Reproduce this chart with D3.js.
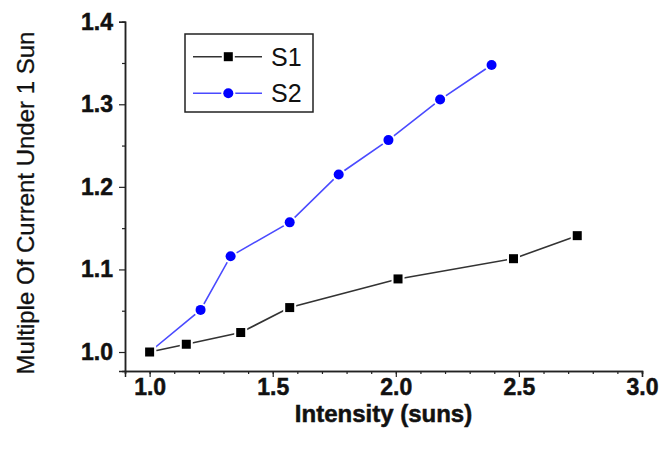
<!DOCTYPE html>
<html><head><meta charset="utf-8">
<script src="https://cdn.jsdelivr.net/npm/d3@7"></script>
<style>body{margin:0;background:#fff}svg{display:block}</style>
</head><body>
<svg id="c" width="662" height="452"></svg>
<script>
const s1X = [1.0, 1.149, 1.37, 1.569, 2.009, 2.478, 2.737];
const s1Y = [1.0, 1.0094, 1.0236, 1.0538, 1.0885, 1.113, 1.1409];
const s2X = [1.0, 1.207, 1.329, 1.569, 1.768, 1.970, 2.180, 2.389];
const s2Y = [1.0, 1.051, 1.116, 1.157, 1.215, 1.2566, 1.3057, 1.3476];
const xTicks = [1.0, 1.5, 2.0, 2.5, 3.0];
const yTicks = [1.0, 1.1, 1.2, 1.3, 1.4];
const seriesNames = ["S1", "S2"];
const xTitle = "Intensity (suns)";
const yTitle = "Multiple Of Current Under 1 Sun";

const svg = d3.select("#c");
const x = d3.scaleLinear().domain([0.9, 3.0]).range([125, 642]);
const y = d3.scaleLinear().domain([0.977, 1.4]).range([371, 21.7]);
const font = "'Liberation Sans', Arial, sans-serif";

// axes
const xAxis = d3.axisBottom(x).tickValues(xTicks).tickFormat(d3.format(".1f")).tickSize(6).tickPadding(2);
const xMinor = d3.axisBottom(x).tickValues(d3.range(9, 31).map(v => v / 10)).tickFormat("").tickSize(3);
const yAxis = d3.axisLeft(y).tickValues(yTicks).tickFormat(d3.format(".1f")).tickSize(6).tickPadding(6);
const yMinor = d3.axisLeft(y).tickValues([1.05, 1.15, 1.25, 1.35]).tickFormat("").tickSize(3);

function style(g) {
  g.select(".domain").attr("stroke", "#222").attr("stroke-width", 1.5);
  g.selectAll(".tick line").attr("stroke", "#222").attr("stroke-width", 1.2);
  g.selectAll(".tick text").attr("font-family", font).attr("font-weight", "bold").attr("font-size", 23)
    .attr("fill", "#111").attr("stroke", "#111").attr("stroke-width", 0.5);
}
svg.append("g").attr("transform", "translate(0,371)").call(xMinor).call(style);
svg.append("g").attr("transform", "translate(0,371)").call(xAxis).call(style);
svg.append("g").attr("transform", "translate(125,0)").call(yMinor).call(style);
svg.append("g").attr("transform", "translate(125,0)").call(yAxis).call(style);

// titles
svg.append("text").attr("x", (x.range()[0] + x.range()[1]) / 2).attr("y", 422)
  .attr("text-anchor", "middle").attr("font-family", font).attr("font-weight", "bold")
  .attr("font-size", 24).attr("fill", "#111").attr("stroke", "#111").attr("stroke-width", 0.5).text(xTitle);
svg.append("text").attr("transform", "translate(34,203) rotate(-90)")
  .attr("text-anchor", "middle").attr("font-family", font)
  .attr("font-size", 24).attr("fill", "#111").attr("stroke", "#111").attr("stroke-width", 0.3).text(yTitle);

// series
const line = d3.line().x(d => x(d[0])).y(d => y(d[1]));
const d1 = s1X.map((v, i) => [v, s1Y[i]]);
const d2 = s2X.map((v, i) => [v, s2Y[i]]);

svg.append("path").datum(d1).attr("d", line).attr("fill", "none").attr("stroke", "#333").attr("stroke-width", 1.6);
svg.append("path").datum(d2).attr("d", line).attr("fill", "none").attr("stroke", "#4a4aff").attr("stroke-width", 1.6);

function squares(g, data, sz) {
  g.selectAll(null).data(data).enter().append("rect")
    .attr("x", d => x(d[0]) - sz / 2 - 2).attr("y", d => y(d[1]) - sz / 2 - 2)
    .attr("width", sz + 4).attr("height", sz + 4).attr("fill", "#fff");
  g.selectAll(null).data(data).enter().append("rect")
    .attr("x", d => x(d[0]) - sz / 2).attr("y", d => y(d[1]) - sz / 2)
    .attr("width", sz).attr("height", sz).attr("fill", "#000");
}
function circles(g, data, r) {
  g.selectAll(null).data(data).enter().append("circle")
    .attr("cx", d => x(d[0])).attr("cy", d => y(d[1])).attr("r", r + 2).attr("fill", "#fff");
  g.selectAll(null).data(data).enter().append("circle")
    .attr("cx", d => x(d[0])).attr("cy", d => y(d[1])).attr("r", r).attr("fill", "#0000ff");
}
circles(svg.append("g"), d2, 5);
squares(svg.append("g"), d1, 9);

// legend
const lg = svg.append("g");
lg.append("rect").attr("x", 185).attr("y", 34).attr("width", 128).attr("height", 78)
  .attr("fill", "#fff").attr("stroke", "#222").attr("stroke-width", 1.5);
const rows = [56.7, 93.3];
lg.append("line").attr("x1", 193).attr("x2", 262).attr("y1", rows[0]).attr("y2", rows[0]).attr("stroke", "#333").attr("stroke-width", 1.6);
lg.append("line").attr("x1", 193).attr("x2", 262).attr("y1", rows[1]).attr("y2", rows[1]).attr("stroke", "#4a4aff").attr("stroke-width", 1.6);
lg.append("rect").attr("x", 228.3 - 6.5).attr("y", rows[0] - 6.5).attr("width", 13).attr("height", 13).attr("fill", "#fff");
lg.append("rect").attr("x", 228.3 - 4.5).attr("y", rows[0] - 4.5).attr("width", 9).attr("height", 9).attr("fill", "#000");
lg.append("circle").attr("cx", 228.3).attr("cy", rows[1]).attr("r", 7).attr("fill", "#fff");
lg.append("circle").attr("cx", 228.3).attr("cy", rows[1]).attr("r", 5).attr("fill", "#0000ff");
seriesNames.forEach((n, i) => {
  lg.append("text").attr("x", 271).attr("y", rows[i] + 9).attr("font-family", font)
    .attr("font-size", 25).attr("fill", "#111").text(n);
});
</script>
</body></html>
